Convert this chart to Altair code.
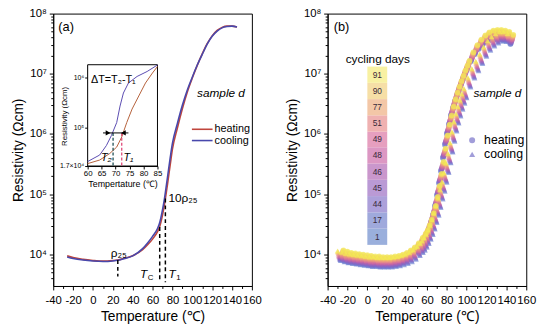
import altair as alt
import pandas as pd

FONT = "Liberation Sans"
HEAT = "#c0453c"
COOL = "#4848ac"

# ---------------- panel (a): main curves ----------------
a_temp = [-26, -20, -10, 0, 10, 20, 25, 30, 40, 50, 55, 60, 65, 67, 70, 72, 75, 78, 80,
          85, 90, 95, 100, 105, 110, 115, 120, 125, 130, 135, 140, 145]
a_heating = [9550, 8900, 8300, 7950, 7760, 7950, 8130, 8500, 9550, 12000, 14500, 18000, 24000,
             28500, 45000, 68000, 1.45e5, 3.3e5, 5.6e5, 1.26e6, 2.63e6, 5.0e6, 8.5e6, 1.38e7,
             2.14e7, 3.16e7, 4.27e7, 5.25e7, 5.9e7, 6.2e7, 6.2e7, 6.0e7]
a_cooling = [9100, 8600, 8100, 7800, 7650, 7800, 8000, 8400, 9500, 12500, 15500, 20000, 27000,
             33000, 55000, 85000, 1.9e5, 4.3e5, 7.0e5, 1.5e6, 3.0e6, 5.4e6, 8.8e6, 1.4e7,
             2.1e7, 3.1e7, 4.2e7, 5.1e7, 5.8e7, 6.1e7, 6.2e7, 6.0e7]

# annotation lines (T, top, bottom)
ann_T = [25, 67.2, 72.9]
ann_top = [8100, 28500, 85000]
ann_bot = [4300, 3450, 3450]

# ---------------- inset ----------------
in_cool_T = [60, 64.3, 66.7, 68.5, 70.4, 71.6, 72.8, 74.6, 77.7, 81.3, 85]
in_cool_R = [20900, 28200, 43600, 69200, 1.26e5, 2.69e5, 4.9e5, 7.76e5, 1.05e6, 1.32e6, 1.78e6]
in_heat_T = [60, 64.3, 67.9, 70.4, 72.2, 74, 75.9, 78.3, 80.7, 83.2, 85]
in_heat_R = [19000, 22400, 30200, 40700, 64600, 1.26e5, 2.34e5, 4.27e5, 7.76e5, 1.23e6, 1.66e6]
in_T2 = 69.1
in_T1 = 72.2
in_arrow_R = 7.8e4
in_arrow_T = [65.5, 74.6]

# ---------------- panel (b) ----------------
b_temp = [-27, -23, -19, -15, -11, -7, -3, 1, 5, 9, 13, 17, 21, 25, 29, 33, 37, 41, 45, 49, 53,
          56, 58, 60, 62, 64, 66, 68, 70, 72, 74, 76, 78, 80, 82, 84, 86, 88, 90, 92, 94, 96, 98, 100,
          104, 108, 112, 116, 120, 124, 128, 132, 136, 140, 144]
b_heat_lg = [3.91, 3.89, 3.87, 3.86, 3.85, 3.84, 3.83, 3.82, 3.81, 3.81, 3.80, 3.80, 3.80, 3.81,
             3.82, 3.84, 3.87, 3.91, 3.96, 4.03, 4.12,
             4.19, 4.25, 4.33, 4.42, 4.53, 4.65, 4.80, 4.98, 5.18, 5.38, 5.60, 5.82, 6.00, 6.15,
             6.30, 6.42, 6.53, 6.63, 6.72, 6.81, 6.90, 6.98, 7.06,
             7.20, 7.32, 7.41, 7.48, 7.53, 7.56, 7.57, 7.57, 7.56, 7.54, 7.49]
b_cool_lg = [3.90, 3.88, 3.86, 3.85, 3.84, 3.83, 3.82, 3.81, 3.80, 3.80, 3.79, 3.79, 3.79, 3.79,
             3.80, 3.81, 3.83, 3.85, 3.88, 3.92, 3.98,
             4.03, 4.07, 4.12, 4.18, 4.25, 4.33, 4.42, 4.53, 4.65, 4.78, 4.92, 5.05, 5.20, 5.36,
             5.52, 5.70, 5.88, 6.05, 6.18, 6.30, 6.41, 6.51, 6.60,
             6.78, 6.93, 7.05, 7.17, 7.29, 7.39, 7.46, 7.51, 7.54, 7.54, 7.51]
days = ["1", "17", "44", "45", "46", "48", "49", "51", "77", "90", "91"]
day_lg_offset = [0.00, 0.015, 0.03, 0.045, 0.06, 0.075, 0.09, 0.11, 0.13, 0.15, 0.16]
day_dT_heat = [0.0, 0.3, 0.6, 0.9, 1.2, 1.5, 1.8, 2.1, 2.4, 2.7, 3.0]
day_dT_cool = [0.0, -0.3, -0.6, -0.9, -1.2, -1.5, -1.8, -2.1, -2.4, -2.7, -3.0]
point_colors = ["#6f86d2", "#7379cf", "#8069c8", "#9565c0", "#ab62b4", "#c466a6",
                "#d9759a", "#e78d88", "#f0aa74", "#f2cf5f", "#f3ea55"]
bar_colors = ["#8fa6d8", "#95a0d8", "#a396d6", "#b38fd0", "#c48cc6", "#d88cbc",
              "#e395b8", "#eda8a8", "#f2c19d", "#f5dc9c", "#f7ef98"]
# colour-bar cell edges (log10 resistivity) and x-extent (temperature)
bar_edges_lg = [4.16, 4.43, 4.70, 4.97, 5.24, 5.51, 5.78, 6.04, 6.31, 6.58, 6.85, 7.12]
bar_T = [0, 20]

# axis ticks
x_ticks = [-40, -20, 0, 20, 40, 60, 80, 100, 120, 140, 160]
x_minor = [-30, -10, 10, 30, 50, 70, 90, 110, 130, 150]
y_ticks = [1e4, 1e5, 1e6, 1e7, 1e8]
y_minor = [4e3, 5e3, 6e3, 7e3, 8e3, 9e3, 2e4, 3e4, 4e4, 5e4, 6e4, 7e4, 8e4, 9e4,
           2e5, 3e5, 4e5, 5e5, 6e5, 7e5, 8e5, 9e5, 2e6, 3e6, 4e6, 5e6, 6e6, 7e6, 8e6, 9e6,
           2e7, 3e7, 4e7, 5e7, 6e7, 7e7, 8e7, 9e7]

W, H = 202, 277
xs = alt.Scale(domain=[-40, 160], nice=False, zero=False)
ys = alt.Scale(type="log", domain=[3000, 1e8], nice=False)
y_expr = ("datum.value == 10000 ? '10⁴' : datum.value == 100000 ? '10⁵' : "
          "datum.value == 1000000 ? '10⁶' : datum.value == 10000000 ? '10⁷' : '10⁸'")

x_axis = alt.Axis(values=x_ticks, labelExpr="'' + datum.value", title="Temperature (℃)",
                  labelFontSize=11.5, titleFontSize=14, tickSize=4, labelPadding=5,
                  titlePadding=4, labelOverlap=False, labelFlush=False, orient="bottom")
y_axis = alt.Axis(values=y_ticks, labelExpr=y_expr, title="Resistivity (Ωcm)",
                  labelFontSize=11.5, titleFontSize=14, tickSize=4, labelPadding=3, titlePadding=4,
                  labelOverlap=False, labelFlush=False, orient="left")
x_axis_minor = alt.Axis(values=x_minor, labels=False, title=None, domain=False, tickSize=2.5,
                        orient="bottom")
y_axis_minor = alt.Axis(values=y_minor, labels=False, title=None, domain=False, tickSize=2.5,
                        orient="left")


def XY(xf, yf, sx, sy, ax=None, ay=None):
    return alt.X(xf, scale=sx, axis=ax), alt.Y(yf, scale=sy, axis=ay)


def txt(rows, sx=xs, sy=ys, ax=None, ay=None, **kw):
    df = pd.DataFrame(rows, columns=["T", "R", "label"])
    x, y = XY("T:Q", "R:Q", sx, sy, ax, ay)
    return alt.Chart(df).mark_text(**kw).encode(x=x, y=y, text="label:N")


def minor_layer(df):
    x, y = XY("T:Q", "R:Q", xs, ys, x_axis_minor, y_axis_minor)
    return alt.Chart(df).mark_point(opacity=0, size=1).encode(x=x, y=y)


# ---------------- build panel (a) ----------------
df_a_h = pd.DataFrame({"T": a_temp, "R": a_heating})
df_a_c = pd.DataFrame({"T": a_temp, "R": a_cooling})
x, y = XY("T:Q", "R:Q", xs, ys, x_axis, y_axis)
line_h = alt.Chart(df_a_h).mark_line(color=HEAT, strokeWidth=1.6, interpolate="monotone").encode(
    x=x, y=y)
x, y = XY("T:Q", "R:Q", xs, ys)
line_c = alt.Chart(df_a_c).mark_line(color=COOL, strokeWidth=1.6, interpolate="monotone").encode(
    x=x, y=y)
df_ann = pd.DataFrame({"T": ann_T, "R": ann_top, "bot": ann_bot})
ann_rules = alt.Chart(df_ann).mark_rule(color="black", strokeWidth=1.5, strokeDash=[4, 3]).encode(
    x=x, y=y, y2="bot:Q")

a_texts = [
    txt([[-27, 6.0e7, "(a)"]], fontSize=13, align="center", baseline="middle"),
    txt([[26, 1.05e4, "ρ₂₅"]], fontSize=12, align="center", baseline="middle"),
    txt([[76, 8.5e4, "10ρ₂₅"]], fontSize=12, align="left", baseline="middle"),
    txt([[51.1, 4700, "T"], [79.8, 4700, "T"]], fontSize=12, fontStyle="italic", align="center",
        baseline="middle"),
    txt([[51.1, 4700, "C"]], fontSize=8, align="left", baseline="middle", dx=4, dy=4),
    txt([[79.8, 4700, "1"]], fontSize=8, align="left", baseline="middle", dx=4, dy=4),
    txt([[153, 4.8e6, "sample d"]], fontSize=12, fontStyle="italic", align="right",
        baseline="middle"),
    txt([[122.4, 1.2e6, "heating"], [122.4, 7.8e5, "cooling"]], fontSize=11, align="left",
        baseline="middle"),
]
df_leg_a = pd.DataFrame({"T": [99.6, 99.6], "T2": [120.4, 120.4], "R": [1.2e6, 7.8e5],
                         "s": ["heating", "cooling"]})
leg_a = alt.Chart(df_leg_a).mark_rule(strokeWidth=1.6).encode(
    x=x, x2="T2:Q", y=y,
    color=alt.Color("s:N", scale=alt.Scale(domain=["heating", "cooling"], range=[HEAT, COOL]),
                    legend=None))

main_a = alt.layer(line_h, minor_layer(df_a_h), line_c, ann_rules, leg_a, *a_texts
                   ).resolve_axis(x="independent", y="independent")

# inset
xs_in = alt.Scale(domain=[60, 85], range=[35, 106], nice=False, zero=False)
ys_in = alt.Scale(type="log", domain=[1.7e4, 1.8e6], range=[155, 52], nice=False)
in_y_expr = ("datum.value < 20000 ? '1.7×10⁴' : datum.value < 200000 ? '10⁵' : '10⁶'")
in_x_axis = alt.Axis(orient="bottom", offset=-122, values=[60, 65, 70, 75, 80, 85],
                     title="Tempertature (℃)", labelFontSize=8, titleFontSize=9, tickSize=3,
                     labelPadding=1, titlePadding=2, labelFlush=False, labelOverlap=False)
in_y_axis = alt.Axis(orient="left", offset=-35, values=[1.7e4, 1e5, 1e6], labelExpr=in_y_expr,
                     title="Resistivity (Ωcm)", labelFontSize=7, titleFontSize=8, tickSize=3,
                     labelPadding=1, titleX=-19, titleY=104, labelFlush=False,
                     labelOverlap=False)
df_box = pd.DataFrame({"T": [60], "x2": [85], "R": [1.7e4], "y2": [1.8e6]})
x, y = XY("T:Q", "R:Q", xs_in, ys_in, in_x_axis, in_y_axis)
box = alt.Chart(df_box).mark_rect(fill="white", stroke="black", strokeWidth=1).encode(
    x=x, x2="x2:Q", y=y, y2="y2:Q")
in_h = alt.Chart(pd.DataFrame({"T": in_heat_T, "R": in_heat_R})).mark_line(
    color="#b5603a", strokeWidth=1).encode(x=x, y=y)
in_c = alt.Chart(pd.DataFrame({"T": in_cool_T, "R": in_cool_R})).mark_line(
    color="#5a4ab0", strokeWidth=1).encode(x=x, y=y)
df_in_dash = pd.DataFrame({"T": [in_T2, in_T1], "R": [in_arrow_R, in_arrow_R],
                           "bot": [1.7e4, 1.7e4], "c": ["T2", "T1"]})
in_dash = alt.Chart(df_in_dash).mark_rule(strokeWidth=1.3, strokeDash=[3, 2]).encode(
    x=x, y=y, y2="bot:Q",
    stroke=alt.Stroke("c:N", scale=alt.Scale(domain=["T2", "T1"], range=["#1f4f55", "#e04a7a"]),
                      legend=None))
df_arrow = pd.DataFrame({"T": [in_arrow_T[0]], "T2": [in_arrow_T[1]], "R": [in_arrow_R]})
in_arrow = alt.Chart(df_arrow).mark_rule(color="black", strokeWidth=1).encode(
    x=x, x2="T2:Q", y=y)
in_head_r = alt.Chart(pd.DataFrame({"T": [67.3], "R": [in_arrow_R]})).mark_point(
    filled=True, color="black", size=30, opacity=1, shape="triangle-right").encode(x=x, y=y)
in_head_l = alt.Chart(pd.DataFrame({"T": [72.8], "R": [in_arrow_R]})).mark_point(
    filled=True, color="black", size=30, opacity=1, shape="triangle-left").encode(x=x, y=y)
in_texts = [
    txt([[61.2, 8.8e5, "ΔT=T₂-T₁"]], sx=xs_in, sy=ys_in, ax=in_x_axis, ay=in_y_axis,
        fontSize=11, align="left", baseline="middle"),
    txt([[66.7, 2.4e4, "T₂"], [74.6, 2.4e4, "T₁"]], sx=xs_in, sy=ys_in, ax=in_x_axis,
        ay=in_y_axis, fontSize=11, fontStyle="italic", align="center", baseline="middle"),
]
inset = alt.layer(box, in_h, in_c, in_dash, in_arrow, in_head_r, in_head_l, *in_texts)

panel_a = alt.layer(main_a, inset).resolve_scale(x="independent", y="independent").properties(
    width=W, height=H)

# ---------------- build panel (b) ----------------
rows = []
for i, d in enumerate(days):
    for kind, lg, dT in (("heating", b_heat_lg, day_dT_heat[i]),
                         ("cooling", b_cool_lg, day_dT_cool[i])):
        for t, v in zip(b_temp, lg):
            rows.append({"T": t + dT, "R": 10 ** (v + day_lg_offset[i]), "day": d, "kind": kind,
                         "i": i})
df_b = pd.DataFrame(rows).sort_values("i", kind="stable")
day_scale = alt.Scale(domain=days, range=point_colors)
shape_scale = alt.Scale(domain=["heating", "cooling"], range=["circle", "triangle-up"])
x, y = XY("T:Q", "R:Q", xs, ys, x_axis, y_axis)
pts = alt.Chart(df_b).mark_point(filled=True, size=32, opacity=0.65).encode(
    x=x, y=y,
    color=alt.Color("day:N", scale=day_scale, legend=None),
    shape=alt.Shape("kind:N", scale=shape_scale, legend=None))

bar_rows = []
for i, d in enumerate(days):
    bar_rows.append({"T": bar_T[0], "x2": bar_T[1], "R": 10 ** bar_edges_lg[i],
                     "y2": 10 ** bar_edges_lg[i + 1],
                     "ym": 10 ** ((bar_edges_lg[i] + bar_edges_lg[i + 1]) / 2),
                     "xm": (bar_T[0] + bar_T[1]) / 2, "day": d, "col": bar_colors[i]})
df_bar = pd.DataFrame(bar_rows)
x, y = XY("T:Q", "R:Q", xs, ys)
bar = alt.Chart(df_bar).mark_rect(opacity=0.9).encode(
    x=x, x2="x2:Q", y=y, y2="y2:Q", fill=alt.Fill("col:N", scale=None))
xm, ym = XY("xm:Q", "ym:Q", xs, ys)
bar_txt = alt.Chart(df_bar).mark_text(fontSize=8.5, color="#3a2a3a").encode(
    x=xm, y=ym, text="day:N")

leg_b_c = alt.Chart(pd.DataFrame({"T": [105.5], "R": [7.9e5]})).mark_point(
    filled=True, size=38, opacity=0.8, color="#8a84d0", shape="circle").encode(x=x, y=y)
leg_b_t = alt.Chart(pd.DataFrame({"T": [105.5], "R": [4.6e5]})).mark_point(
    filled=True, size=38, opacity=0.8, color="#8a84d0", shape="triangle-up").encode(x=x, y=y)
b_texts = [
    txt([[-26, 6.0e7, "(b)"]], fontSize=13, align="center", baseline="middle"),
    txt([[10.5, 1.75e7, "cycling days"]], fontSize=12, align="center", baseline="middle"),
    txt([[155, 4.8e6, "sample d"]], fontSize=12, fontStyle="italic", align="right",
        baseline="middle"),
    txt([[117.5, 7.9e5, "heating"], [117.5, 4.6e5, "cooling"]], fontSize=12.5, align="left",
        baseline="middle"),
]
panel_b = alt.layer(pts, minor_layer(df_a_h), bar, bar_txt, leg_b_c, leg_b_t, *b_texts
                    ).resolve_axis(x="independent", y="independent").properties(width=W, height=H)

chart = alt.hconcat(panel_a, panel_b, spacing=77, bounds="flush").resolve_scale(
    x="independent", y="independent", color="independent", shape="independent",
    fill="independent", stroke="independent"
).properties(
    padding={"left": 2, "top": -4, "right": 5, "bottom": 0}
).configure_view(stroke="black", strokeWidth=1).configure_axis(
    grid=False, domainColor="black", tickColor="black", labelColor="black", titleColor="black",
    labelFont=FONT, titleFont=FONT, titleFontWeight="normal", domainWidth=1, tickWidth=1
).configure_text(font=FONT)

chart.save("out.html", embed_options={"renderer": "svg", "actions": False})
